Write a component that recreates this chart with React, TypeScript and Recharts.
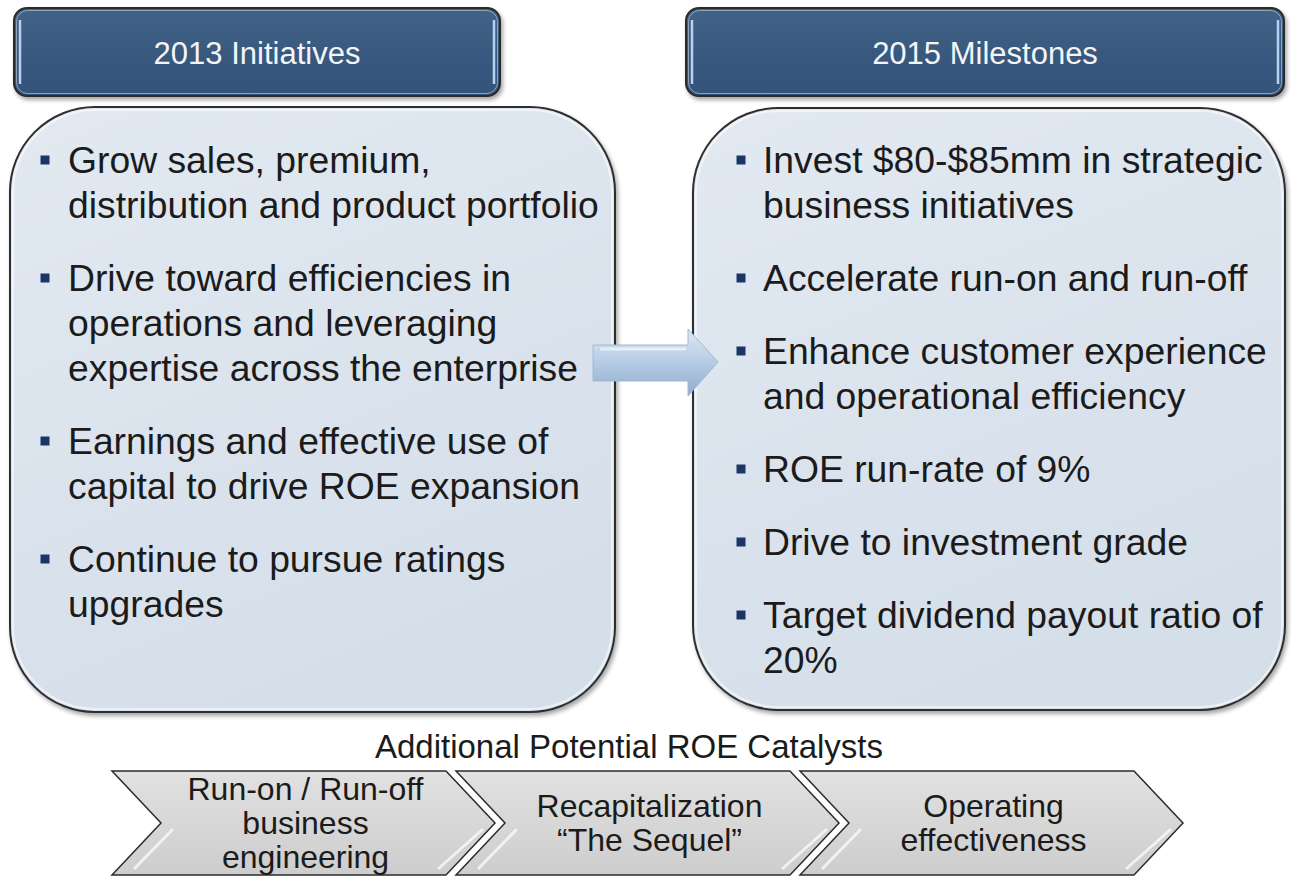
import React from "react";
import { ComposedChart, XAxis, YAxis, Customized, Rectangle, Polygon } from "recharts";

// ---- content ----
const headers = ["2013 Initiatives", "2015 Milestones"];

const initiatives = [
  ["Grow sales, premium,", "distribution and product portfolio"],
  ["Drive toward efficiencies in", "operations and leveraging", "expertise across the enterprise"],
  ["Earnings and effective use of", "capital to drive ROE expansion"],
  ["Continue to pursue ratings", "upgrades"],
];

const milestones = [
  ["Invest $80-$85mm in strategic", "business initiatives"],
  ["Accelerate run-on and run-off"],
  ["Enhance customer experience", "and operational efficiency"],
  ["ROE run-rate of 9%"],
  ["Drive to investment grade"],
  ["Target dividend payout ratio of", "20%"],
];

const catalystTitle = "Additional Potential ROE Catalysts";

const catalysts = [
  ["Run-on / Run-off", "business", "engineering"],
  ["Recapitalization", "\u201CThe Sequel\u201D"],
  ["Operating", "effectiveness"],
];

// ---- layout ----
const W = 1292;
const H = 876;
const FONT = '"Liberation Sans", Arial, Helvetica, sans-serif';

const columns = [
  {
    header: { x: 14, y: 8, w: 486, h: 88 },
    panel: { x: 10, y: 107, w: 605, h: 605 },
    bulletX: 45,
    textX: 68,
    title: headers[0],
    items: initiatives,
  },
  {
    header: { x: 686, y: 8, w: 598, h: 88 },
    panel: { x: 693, y: 108, w: 592, h: 602 },
    bulletX: 741,
    textX: 763,
    title: headers[1],
    items: milestones,
  },
];

const FIRST_BASELINE = 173;
const LINE_H = 45;
const ITEM_STEP = 73;
const BULLET_FONT = 37.3;

const CHEV_X0 = 112;
const CHEV_STEP = 344;
const CHEV_LEN = 334;
const CHEV_D = 49;
const CHEV_TOP = 771;
const CHEV_BOTTOM = 875;
const CHEV_FONT = 32;
const CHEV_LINE = 34;

function BulletList({ items, bulletX, textX }: { items: string[][]; bulletX: number; textX: number }) {
  let y = FIRST_BASELINE;
  const out: React.ReactNode[] = [];
  items.forEach((lines, i) => {
    out.push(
      <rect key={`b${i}`} x={bulletX - 4.5} y={y - 17.5} width={9} height={9} fill="#1c3567" />
    );
    lines.forEach((line, j) => {
      out.push(
        <text key={`t${i}-${j}`} x={textX} y={y + j * LINE_H} fontFamily={FONT} fontSize={BULLET_FONT} fill="#1b1b1b">
          {line}
        </text>
      );
    });
    y += (lines.length - 1) * LINE_H + ITEM_STEP;
  });
  return <g>{out}</g>;
}

function Diagram() {
  const mid = (CHEV_TOP + CHEV_BOTTOM) / 2;
  return (
    <g>
      <defs>
        <linearGradient id="hdrFill" x1="0" y1="0" x2="0" y2="1">
          <stop offset="0%" stopColor="#42638a" />
          <stop offset="50%" stopColor="#39597e" />
          <stop offset="100%" stopColor="#34537a" />
        </linearGradient>
        <linearGradient id="panelFill" x1="0" y1="0" x2="0.4" y2="1">
          <stop offset="0%" stopColor="#e2e9f1" />
          <stop offset="100%" stopColor="#d5dfea" />
        </linearGradient>
        <linearGradient id="arrowFill" x1="0" y1="0" x2="0" y2="1">
          <stop offset="0%" stopColor="#dde8f4" />
          <stop offset="45%" stopColor="#b9cfe6" />
          <stop offset="100%" stopColor="#8eaccd" />
        </linearGradient>
        <linearGradient id="chevFill" x1="0" y1="0" x2="0" y2="1">
          <stop offset="0%" stopColor="#e1e1e1" />
          <stop offset="100%" stopColor="#cdcdcd" />
        </linearGradient>
        <filter id="shadow" x="-5%" y="-5%" width="112%" height="115%">
          <feDropShadow dx="2" dy="3" stdDeviation="2" floodColor="#000" floodOpacity="0.35" />
        </filter>
      </defs>

      {columns.map((c, i) => (
        <g key={`col${i}`}>
          <Rectangle
            x={c.header.x}
            y={c.header.y}
            width={c.header.w}
            height={c.header.h}
            radius={13}
            fill="url(#hdrFill)"
            stroke="#2b2b2b"
            strokeWidth={2}
            filter="url(#shadow)"
          />
          <Rectangle
            x={c.header.x + 2.5}
            y={c.header.y + 2.5}
            width={c.header.w - 5}
            height={c.header.h - 5}
            radius={11}
            fill="none"
            stroke="#8fa3bb"
            strokeWidth={1}
          />
          <line x1={c.header.x + 6} x2={c.header.x + 6} y1={c.header.y + 12} y2={c.header.y + c.header.h - 12} stroke="#b5d2f0" strokeWidth={2.5} />
          <line x1={c.header.x + c.header.w - 6} x2={c.header.x + c.header.w - 6} y1={c.header.y + 12} y2={c.header.y + c.header.h - 12} stroke="#b5d2f0" strokeWidth={2.5} />
          <text
            x={c.header.x + c.header.w / 2}
            y={c.header.y + 56}
            textAnchor="middle"
            fontFamily={FONT}
            fontSize={31}
            fill="#f2f5f9"
          >
            {c.title}
          </text>

          <Rectangle
            x={c.panel.x}
            y={c.panel.y}
            width={c.panel.w}
            height={c.panel.h}
            radius={85}
            fill="url(#panelFill)"
            stroke="#2e2e2e"
            strokeWidth={2}
            filter="url(#shadow)"
          />
          <Rectangle
            x={c.panel.x + 3}
            y={c.panel.y + 3}
            width={c.panel.w - 6}
            height={c.panel.h - 6}
            radius={82}
            fill="none"
            stroke="#ffffff"
            strokeWidth={2}
            opacity={0.55}
          />
          <BulletList items={c.items} bulletX={c.bulletX} textX={c.textX} />
        </g>
      ))}

      {/* connecting arrow */}
      <Polygon
        points={[
          { x: 593, y: 345 },
          { x: 688, y: 345 },
          { x: 688, y: 329 },
          { x: 718, y: 362 },
          { x: 688, y: 396 },
          { x: 688, y: 381 },
          { x: 593, y: 381 },
        ]}
        fill="url(#arrowFill)"
        stroke="#9fb8d3"
        strokeWidth={1}
      />
      <line x1={600} x2={686} y1={349} y2={349} stroke="#eef4fa" strokeWidth={3} opacity={0.8} />

      {/* bottom catalysts */}
      <text x={629} y={758} textAnchor="middle" fontFamily={FONT} fontSize={33} fill="#1b1b1b">
        {catalystTitle}
      </text>

      {catalysts.map((lines, i) => {
        const x0 = CHEV_X0 + i * CHEV_STEP;
        const cx = x0 + (CHEV_LEN + CHEV_D) / 2 + 2;
        const first = mid - ((lines.length - 1) * CHEV_LINE) / 2 + 11;
        return (
          <g key={`chev${i}`}>
            <Polygon
              points={[
                { x: x0, y: CHEV_TOP },
                { x: x0 + CHEV_LEN, y: CHEV_TOP },
                { x: x0 + CHEV_LEN + CHEV_D, y: mid },
                { x: x0 + CHEV_LEN, y: CHEV_BOTTOM },
                { x: x0, y: CHEV_BOTTOM },
                { x: x0 + CHEV_D, y: mid },
              ]}
              fill="url(#chevFill)"
              stroke="#2b2b2b"
              strokeWidth={1.5}
            />
            <line x1={x0 + CHEV_D + 12} y1={mid + 6} x2={x0 + 22} y2={CHEV_BOTTOM - 6} stroke="#ffffff" strokeWidth={3} opacity={0.7} />
            <line x1={x0 + CHEV_LEN + CHEV_D - 12} y1={mid + 6} x2={x0 + CHEV_LEN - 8} y2={CHEV_BOTTOM - 6} stroke="#ffffff" strokeWidth={3} opacity={0.7} />
            {lines.map((line, j) => (
              <text
                key={j}
                x={cx}
                y={first + j * CHEV_LINE}
                textAnchor="middle"
                fontFamily={FONT}
                fontSize={CHEV_FONT}
                fill="#1b1b1b"
              >
                {line}
              </text>
            ))}
          </g>
        );
      })}
    </g>
  );
}

const chartData = headers.map((name) => ({ name }));

export default function App() {
  return (
    <div style={{ position: "fixed", left: 0, top: 0, width: W, height: H, background: "#ffffff" }}>
      <ComposedChart width={W} height={H} data={chartData} margin={{ top: 0, right: 0, bottom: 0, left: 0 }}>
        <XAxis dataKey="name" hide />
        <YAxis hide />
        <Customized component={<Diagram />} />
      </ComposedChart>
    </div>
  );
}
